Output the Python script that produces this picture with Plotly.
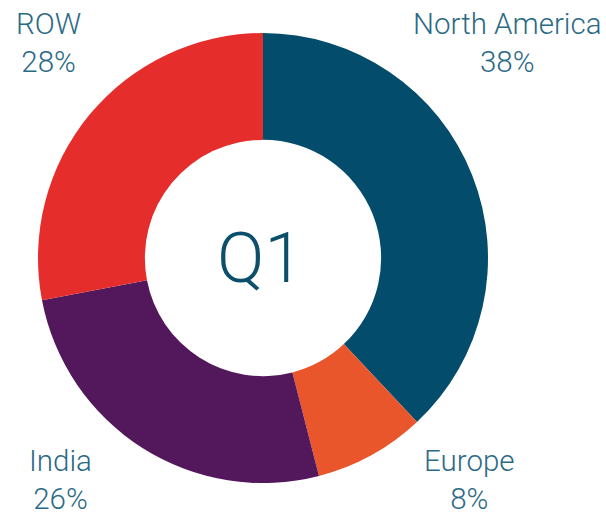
import plotly.graph_objects as go

regions = ["North America", "Europe", "India", "ROW"]
shares = [38, 8, 26, 28]
colors = ["#034C6B", "#E9562C", "#53185C", "#E52E2C"]
center_label = "Q1"

W, H = 606, 516
cx, cy, R = 263, 258, 225

fig = go.Figure(go.Pie(
    labels=regions,
    values=shares,
    sort=False,
    direction="clockwise",
    rotation=0,
    hole=0.525,
    marker=dict(colors=colors, line=dict(width=0)),
    textinfo="none",
    hoverinfo="label+percent",
    domain=dict(x=[(cx - R) / W, (cx + R) / W], y=[(H - cy - R) / H, (H - cy + R) / H]),
    showlegend=False,
))

label_pos = {
    "North America": (507, 43),
    "Europe": (469, 480),
    "India": (60, 480),
    "ROW": (48, 43),
}
txt_color = "#2B6A85"
font_family = "Roboto, 'Open Sans', sans-serif"
for name, val in zip(regions, shares):
    x, y = label_pos[name]
    fig.add_annotation(
        x=x / W, y=1 - y / H, xref="paper", yref="paper",
        text=f"{name}<br>{val}%", showarrow=False,
        xanchor="center", yanchor="middle", align="center",
        font=dict(family=font_family, size=29.5, color=txt_color, weight=300),
    )

fig.add_annotation(
    x=(cx - 3) / W, y=1 - cy / H, xref="paper", yref="paper",
    text=center_label, showarrow=False, xanchor="center", yanchor="middle",
    font=dict(family=font_family, size=70, color="#0B4F6C", weight=300),
)

fig.update_layout(
    width=W, height=H,
    margin=dict(l=0, r=0, t=0, b=0),
    paper_bgcolor="white", plot_bgcolor="white",
)
fig.write_html("out.html")
